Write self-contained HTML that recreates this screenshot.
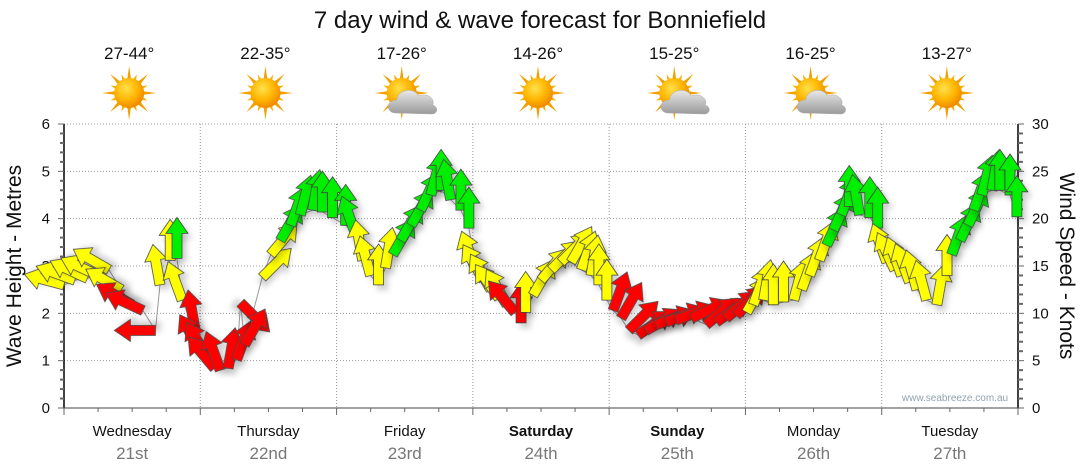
<!DOCTYPE html>
<html><head><meta charset="utf-8"><style>
html,body{margin:0;padding:0;background:#fff;}
svg{display:block;font-family:"Liberation Sans",Verdana,sans-serif;}
</style></head><body>
<svg id="chart" width="1080" height="475" viewBox="0 0 1080 475" xmlns="http://www.w3.org/2000/svg">
<defs>
<filter id="sh" x="-50%" y="-50%" width="200%" height="200%"><feDropShadow dx="4" dy="5" stdDeviation="3" flood-color="#000" flood-opacity="0.18"/></filter>
<radialGradient id="sunG" cx="40%" cy="35%" r="65%"><stop offset="0" stop-color="#ffe14a"/><stop offset="0.6" stop-color="#ffb400"/><stop offset="1" stop-color="#f08a00"/></radialGradient>
<linearGradient id="cloudG" x1="0" y1="0" x2="0" y2="1"><stop offset="0" stop-color="#e8e8e8"/><stop offset="1" stop-color="#9a9a9a"/></linearGradient>
</defs>
<text x="540" y="28" text-anchor="middle" font-size="24" fill="#111">7 day wind &amp; wave forecast for Bonniefield</text>
<g id="grid"></g>
<g id="axes"></g>
<g id="icons"></g>
<path id="tailline" fill="none" stroke="#999" stroke-width="1"/>
<g id="arrows"></g>
<text x="955" y="401" text-anchor="middle" font-size="10" fill="#8fa3b0">www.seabreeze.com.au</text>
<text transform="translate(21,266) rotate(-90)" text-anchor="middle" font-size="21" fill="#111">Wave Height - Metres</text>
<text transform="translate(1060,266) rotate(90)" text-anchor="middle" font-size="21" fill="#111">Wind Speed - Knots</text>
</svg>
<script>
const days = ["Wednesday","Thursday","Friday","Saturday","Sunday","Monday","Tuesday"];
const dates = ["21st","22nd","23rd","24th","25th","26th","27th"];
const boldDays = [false,false,false,true,true,false,false];
const temps = ["27-44°","22-35°","17-26°","14-26°","15-25°","16-25°","13-27°"];
const cloudy = [false,false,true,false,true,true,false];
const leftTicks = [0,1,2,3,4,5,6];
const rightTicks = [0,5,10,15,20,25,30];
const hours = [0,1.9,4.1,6,7.9,10.1,12,13.9,16.1,16.9,18.7,19.9,20.8,
 23.1,24,25.2,26.5,27.5,28.9,30.4,31.1,31.8,34.9,36.4,38.1,39.9,41.6,43.8,45.5,47.3,49.6,51.4,
 52.6,54,55.4,56.6,57.9,59.3,61.1,62.8,64.6,66.4,68.1,69.9,71.3,
 72.5,73.9,75.2,76.6,78,79.4,80.5,81.3,82.6,84,85.8,87.5,89.3,91.1,92.8,94.2,95.6,
 96.7,98.1,99.5,101.1,102.5,104.3,106.1,107.8,110.5,113.1,114.9,116.6,118.4,120.2,
 121.4,123.2,124.9,126.7,128.5,129.9,131.3,133,134.3,135.5,136.9,138.3,140.1,141.9,143.3,
 144.9,146.3,147.5,148.9,150.2,151.9,153.7,155.5,156.3,157.8,159.2,160.2,161.6,163.4,164.8,166.6,167.8];
const knots = [13,13.5,13.7,14,14.6,12.5,10.9,10.3,8.2,13,15.6,15.8,11.4,
 8.2,6.1,5.3,4.2,4,4.2,5.1,11.1,6.7,13.8,16.2,17.7,19.3,20.4,20.9,20.7,20.1,19.3,18.3,
 15.6,14,13,14.8,16.2,17.7,19.3,20.9,22.5,23,22,20.9,19,
 14.6,13.5,12.5,11.6,10.9,10.1,9,10.1,11.9,13.5,14.6,15.4,15.4,14.6,14,13,11.4,
 10.3,9.5,8.2,7.7,8.2,8.8,9.1,9.3,9.5,8.8,9.1,9.5,9.8,10.1,
 10.9,11.4,10.9,11.2,11.4,12.5,14,15.6,17.2,18.8,20.4,21.3,20.4,20.1,19,
 15.4,14.6,14,13.3,12.5,11.4,10.9,14,16.2,17.7,19.3,20.9,22.5,23,23,22.5,20.2];
const directions = [285,290,295,295,300,300,300,295,270,350,0,0,340,
 350,330,330,320,340,10,20,135,30,45,40,30,20,15,10,0,0,0,340,
 350,345,0,10,30,30,30,25,15,0,350,0,0,
 340,330,330,325,330,320,0,0,30,40,45,45,30,20,10,0,0,
 20,30,45,55,60,70,70,70,65,50,55,50,45,30,
 20,10,0,0,15,20,20,20,25,25,20,0,350,0,0,
 340,335,340,340,345,345,10,0,20,25,25,20,15,10,0,0,0];
const colorCodes = "YYYYYYRRRYYGY"+"RRRRRRRRRYYGGGGGGGG"+"YYYYGGGGGGGGG"+"YYYYYRRYYYYYYYYYY"+"RRRRRRRRRRRRRY"+"YYYYYYYYGGGGGGG"+"YYYYYYYYGGGGGGGGG";

const NS="http://www.w3.org/2000/svg";
const X0=64,X1=1018,Y0=408,Y1=124;
const dayW=(X1-X0)/7;
const xH=h=>X0+h*(X1-X0)/168;
const yM=m=>Y0-m*(Y0-Y1)/6;
const yK=k=>Y0-k*(Y0-Y1)/30;
function mk(tag,attrs,parent){const e=document.createElementNS(NS,tag);for(const k in attrs)e.setAttribute(k,attrs[k]);parent.appendChild(e);return e;}
const grid=document.getElementById('grid'),axes=document.getElementById('axes'),icons=document.getElementById('icons');
leftTicks.forEach(v=>{if(v>0){const l=mk('line',{x1:X0,x2:X1,y1:yM(v),y2:yM(v),stroke:'#999','stroke-width':1,'stroke-dasharray':'1,2'},grid);

}});
for(let i=1;i<7;i++){const l=mk('line',{x1:X0+i*dayW,x2:X0+i*dayW,y1:Y1,y2:Y0,stroke:'#999','stroke-width':1,'stroke-dasharray':'1,2'},grid);

}
mk('line',{x1:X0,x2:X0,y1:Y1,y2:Y0,stroke:'#000','stroke-width':1.5},axes);
mk('line',{x1:X1,x2:X1,y1:Y1,y2:Y0,stroke:'#000','stroke-width':1.5},axes);
mk('line',{x1:X0,x2:X1,y1:Y0,y2:Y0,stroke:'#444','stroke-width':1},axes);
for(let m=0;m<=30;m++){const y=yM(m/5);mk('line',{x1:X0-(m%5?4:6),x2:X0,y1:y,y2:y,stroke:'#666','stroke-width':m%5?2:1},axes);}
for(let k=0;k<=30;k++){const y=yK(k);mk('line',{x1:X1,x2:X1+(k%5?5:6),y1:y,y2:y,stroke:'#666','stroke-width':k%5?2:1},axes);}
for(let h=0;h<=168;h+=6){mk('line',{x1:xH(h),x2:xH(h),y1:Y0,y2:Y0+(h%24?4:7),stroke:'#666','stroke-width':1},axes);}
leftTicks.forEach(v=>{const t=mk('text',{x:X0-14,y:yM(v)+5,'text-anchor':'end','font-size':15,fill:'#111'},axes);t.textContent=v;

});
rightTicks.forEach(v=>{const t=mk('text',{x:X1+14,y:yK(v)+5,'text-anchor':'start','font-size':15,fill:'#111'},axes);t.textContent=v;

});
days.forEach((d,i)=>{const cx=X0+dayW*(i+0.5);
const t=mk('text',{x:cx,y:436,'text-anchor':'middle','font-size':15,fill:'#111','font-weight':boldDays[i]?'bold':'normal'},axes);t.textContent=d;


const t2=mk('text',{x:cx,y:459,'text-anchor':'middle','font-size':17,fill:'#777'},axes);t2.textContent=dates[i];


const t3=mk('text',{x:cx-3,y:59,'text-anchor':'middle','font-size':17,fill:'#111'},icons);t3.textContent=temps[i];


const g=mk('g',{transform:`translate(${cx-3},93)`},icons);


for(let a=0;a<16;a++){const ang=a*22.5*Math.PI/180;const L=a%2?20:27;
const p1=[Math.cos(ang)*L,Math.sin(ang)*L],pa=[Math.cos(ang+0.18)*12,Math.sin(ang+0.18)*12],pb=[Math.cos(ang-0.18)*12,Math.sin(ang-0.18)*12];
mk('polygon',{points:`${p1} ${pa} ${pb}`,fill:a%2?'#f5b000':'#f2a000'},g);}
mk('circle',{cx:0,cy:0,r:15,fill:'url(#sunG)'},g);
if(cloudy[i]){mk('path',{d:'M-6,20 C-16,20 -16,7 -5,7 C-4,-4 13,-6 17,3 C25,-1 34,6 31,12 C37,14 36,21 30,21 Z',fill:'url(#cloudG)',stroke:'#aaa','stroke-width':0.5},g);}
});
const cols={Y:'#ffff00',R:'#ff0000',G:'#00ee00'};
const arrowsG=document.getElementById('arrows');
let d='';
hours.forEach((h,i)=>{d+=(i?'L':'M')+xH(h).toFixed(1)+','+yK(knots[i]).toFixed(1);});
document.getElementById('tailline').setAttribute('d',d);
hours.forEach((h,i)=>{
 const p=mk('polygon',{points:'-5,0 5,0 5,-25 11,-25 0,-41 -11,-25 -5,-25',fill:cols[colorCodes[i]]||'#ff0',stroke:'#444','stroke-width':0.8,'stroke-linejoin':'miter',filter:'url(#sh)',
 transform:`translate(${xH(h).toFixed(1)},${yK(knots[i]).toFixed(1)}) rotate(${directions[i]})`},arrowsG);
 
 
});
</script>
</body></html>
